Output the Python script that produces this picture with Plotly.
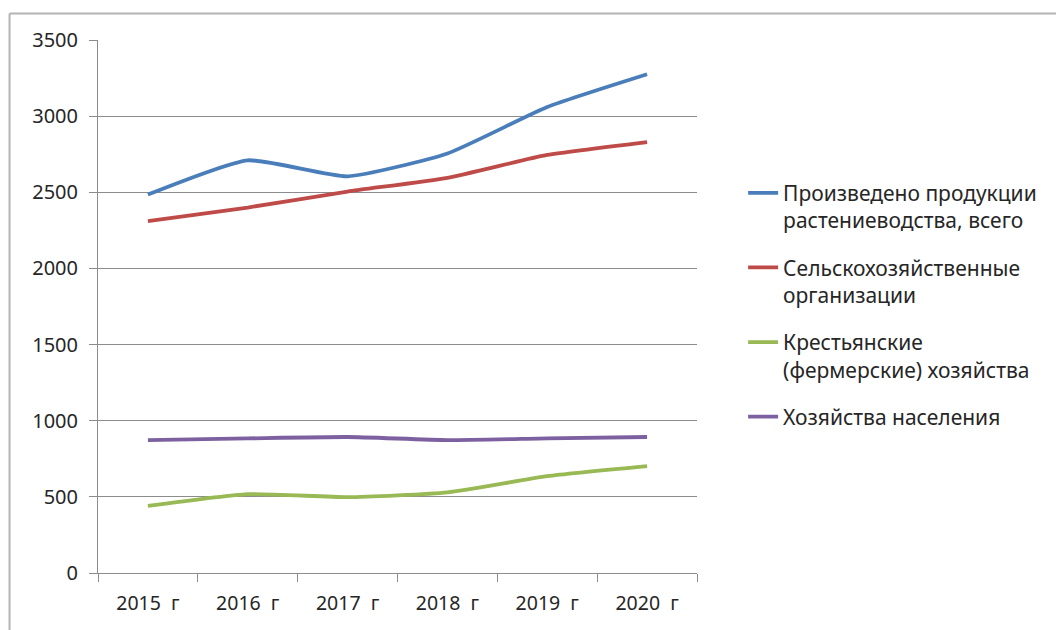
import plotly.graph_objects as go

years = ["2015\u00a0 г", "2016\u00a0 г", "2017\u00a0 г", "2018\u00a0 г", "2019\u00a0 г", "2020\u00a0 г"]
total = [2485, 2710, 2605, 2755, 3060, 3275]
agri_org = [2310, 2400, 2505, 2595, 2745, 2830]
farms = [440, 518, 498, 530, 636, 702]
households = [873, 884, 893, 873, 884, 893]

names = [
    "Произведено продукции<br>растениеводства, всего",
    "Сельскохозяйственные<br>организации",
    "Крестьянские<br>(фермерские) хозяйства",
    "Хозяйства населения",
]
colors = ["#4A7EBB", "#BE4B48", "#98B954", "#7D60A0"]
series = [total, agri_org, farms, households]

fig = go.Figure()
for i, (nm, c, s) in enumerate(zip(names, colors, series)):
    fig.add_trace(go.Scatter(
        x=years, y=s, name=nm, mode="lines",
        line=dict(color=c, width=3.8, shape="spline", smoothing=0.5),
        legendgroup=f"g{i}",
    ))

FONT = "Noto Sans"
TXT = "#262626"
fig.update_layout(
    width=1056, height=622,
    margin=dict(l=90, r=367, t=32, b=57),
    paper_bgcolor="white", plot_bgcolor="white",
    font=dict(family=FONT, size=20, color=TXT),
    showlegend=True,
    legend=dict(
        x=1.077, y=0.751, xanchor="left", yanchor="top",
        font=dict(family=FONT, size=21, color=TXT),
        valign="top", itemwidth=30, tracegroupgap=17,
        bgcolor="rgba(0,0,0,0)",
    ),
    xaxis=dict(
        type="category", tickson="boundaries", ticks="outside", ticklen=8,
        tickcolor="#8C8C8C", showline=True, linecolor="#8C8C8C", linewidth=1,
        showgrid=False, zeroline=False, range=[-0.5, 5.5],
        ticklabelstandoff=13,
        tickfont=dict(family=FONT, size=19.5, color=TXT),
    ),
    yaxis=dict(
        range=[0, 3500], dtick=500, ticks="outside", ticklen=8,
        tickcolor="#8C8C8C", showline=True, linecolor="#8C8C8C", linewidth=1,
        showgrid=True, gridcolor="#8C8C8C", gridwidth=1, zeroline=False,
        ticklabelstandoff=7,
        tickfont=dict(family=FONT, size=20, color=TXT),
    ),
    shapes=[
        dict(type="line", xref="paper", yref="paper", x0=-0.1477, x1=1.7,
             y0=1.0497, y1=1.0497, line=dict(color="#B4B4B4", width=2)),
        dict(type="line", xref="paper", yref="paper", x0=-0.1477, x1=-0.1477,
             y0=1.0497, y1=-0.2, line=dict(color="#B4B4B4", width=2)),
    ],
)

fig.write_html("out.html")
